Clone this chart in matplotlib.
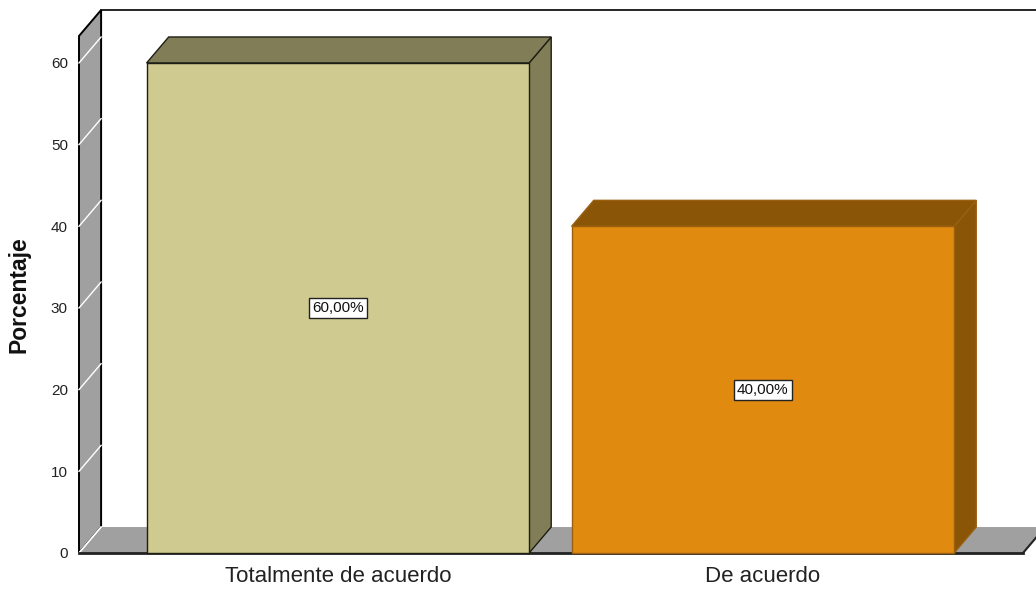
import matplotlib
matplotlib.use("Agg")
import matplotlib.pyplot as plt
from matplotlib.patches import Polygon, Rectangle

# datos
categorias = ["Totalmente de acuerdo", "De acuerdo"]
porcentajes = [60.0, 40.0]
marcas_y = [0, 10, 20, 30, 40, 50, 60]

color_frente = ["#cfca8f", "#e08a10"]
color_lado = ["#817e57", "#8b5508"]
color_borde = ["#1e1e14", "#9a6010"]

plt.rcParams["font.family"] = ["Liberation Sans", "DejaVu Sans"]

fig = plt.figure(figsize=(10.36, 5.89), dpi=100)
ax = fig.add_axes([79 / 1036, 36 / 589, 944 / 1036, 517 / 589])

x_izq, x_der = -0.609, 1.612
y_max = 63.3
dx, dy = 0.052, 3.18   # profundidad 3D en unidades de datos
ancho = 0.9
gris = "#a0a0a0"

ax.set_xlim(x_izq, x_der)
ax.set_ylim(0, y_max)

# pared izquierda
pared = Polygon([(x_izq, 0), (x_izq, y_max), (x_izq + dx, y_max + dy), (x_izq + dx, dy)],
                closed=True, facecolor=gris, edgecolor="black", lw=1.4, clip_on=False, zorder=1)
ax.add_patch(pared)
for v in marcas_y:
    ax.plot([x_izq, x_izq + dx], [v, v + dy], color="white", lw=1, clip_on=False, zorder=2)

# suelo
suelo = Polygon([(x_izq, 0), (x_der, 0), (x_der + dx, dy), (x_izq + dx, dy)],
                closed=True, facecolor=gris, edgecolor="none", clip_on=False, zorder=1)
ax.add_patch(suelo)
ax.plot([x_izq, x_der], [0, 0], color="#222222", lw=2, clip_on=False, zorder=3)
ax.plot([x_der, x_der + dx], [0, dy], color="#222222", lw=1.5, clip_on=False, zorder=3)
ax.plot([x_izq, x_izq + dx], [0, dy], color="white", lw=1, clip_on=False, zorder=2)

# borde superior de la pared del fondo
ax.plot([x_izq + dx, x_der + 2 * dx], [y_max + dy, y_max + dy], color="black", lw=1.2,
        clip_on=False, zorder=1)

# barras 3D
for i, (cat, v) in enumerate(zip(categorias, porcentajes)):
    x0, x1 = i - ancho / 2, i + ancho / 2
    lado = Polygon([(x1, 0), (x1, v), (x1 + dx, v + dy), (x1 + dx, dy)], closed=True,
                   facecolor=color_lado[i], edgecolor=color_borde[i], lw=1, clip_on=False, zorder=4)
    tapa = Polygon([(x0, v), (x1, v), (x1 + dx, v + dy), (x0 + dx, v + dy)], closed=True,
                   facecolor=color_lado[i], edgecolor=color_borde[i], lw=1, clip_on=False, zorder=4)
    frente = Rectangle((x0, 0), ancho, v, facecolor=color_frente[i], edgecolor=color_borde[i],
                       lw=1, clip_on=False, zorder=5)
    ax.add_patch(lado)
    ax.add_patch(tapa)
    ax.add_patch(frente)
    etiqueta = f"{v:.2f}%".replace(".", ",")
    ax.text(i, v / 2, etiqueta, ha="center", va="center", fontsize=11, color="#111111", zorder=6,
            bbox=dict(boxstyle="square,pad=0.2", facecolor="white", edgecolor="#222222", lw=1))

for s in ax.spines.values():
    s.set_visible(False)

ax.set_yticks(marcas_y)
ax.set_yticklabels([str(m) for m in marcas_y])
ax.set_xticks(range(len(categorias)))
ax.set_xticklabels(categorias)
ax.tick_params(axis="y", length=0, pad=8, labelsize=11, labelcolor="#222222")
ax.tick_params(axis="x", length=0, pad=9, labelsize=16, labelcolor="#222222")
ax.set_ylabel("Porcentaje", fontsize=16.5, fontweight="bold", color="#111111")
ax.yaxis.set_label_coords(-0.051, 0.5)

fig.savefig("out.png", dpi=100)
